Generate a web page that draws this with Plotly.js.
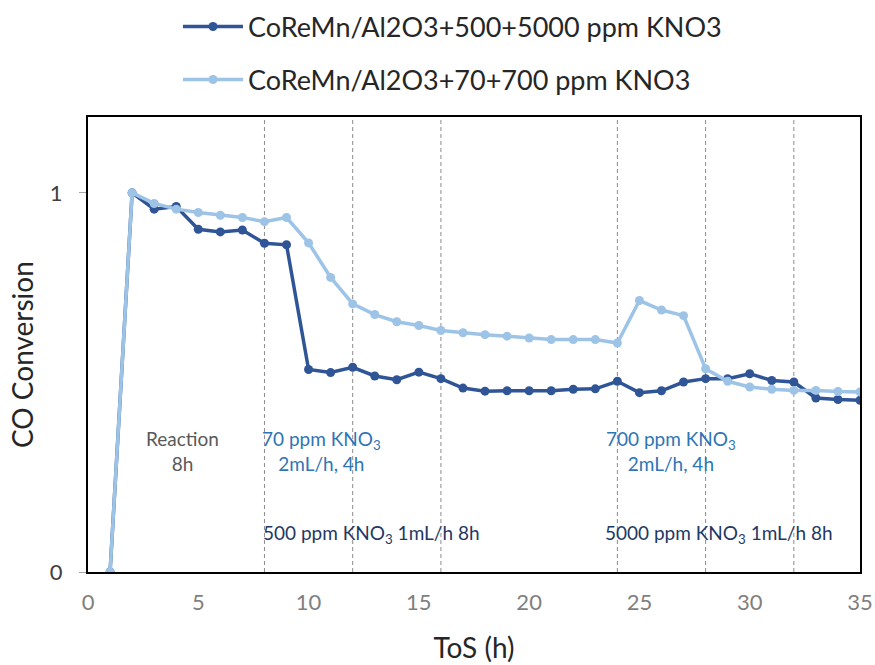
<!DOCTYPE html>
<html>
<head>
<meta charset="utf-8">
<script src="https://cdn.plot.ly/plotly-3.0.1.min.js"></script>
<style>html,body{margin:0;padding:0;background:#fff;}#chart{width:875px;height:665px;}</style>
</head>
<body>
<div id="chart"></div>
<script>
var tosHours = [1,2,3,4,5,6,7,8,9,10,11,12,13,14,15,16,17,18,19,20,21,22,23,24,25,26,27,28,29,30,31,32,33,34,35];
var conv500_5000 = [0,1.0,0.957,0.964,0.904,0.897,0.902,0.867,0.863,0.534,0.526,0.540,0.517,0.507,0.527,0.510,0.485,0.477,0.478,0.478,0.478,0.482,0.483,0.503,0.473,0.478,0.501,0.510,0.510,0.523,0.505,0.501,0.459,0.455,0.453];
var conv70_700 = [0,1.0,0.972,0.957,0.948,0.941,0.935,0.924,0.935,0.868,0.777,0.707,0.679,0.660,0.650,0.637,0.631,0.626,0.622,0.617,0.613,0.613,0.613,0.604,0.716,0.691,0.676,0.536,0.503,0.488,0.482,0.479,0.479,0.476,0.475];
var seriesNames = ["CoReMn/Al2O3+500+5000 ppm KNO3", "CoReMn/Al2O3+70+700 ppm KNO3"];
var phaseLines = [8,12,16,24,28,32];
var xTicks = [0,5,10,15,20,25,30,35];
var yTicks = [0,1];
var yTitle = "CO Conversion";
var xTitle = "ToS (h)";
var noteReaction = "Reaction<br>8h";
var noteLow = "70 ppm KNO<sub>3</sub><br>2mL/h, 4h";
var noteHigh = "700 ppm KNO<sub>3</sub><br>2mL/h, 4h";
var note500 = "500 ppm KNO<sub>3</sub> 1mL/h 8h";
var note5000 = "5000 ppm KNO<sub>3</sub> 1mL/h 8h";

var darkBlue = "#2F5597";
var lightBlue = "#9DC3E6";
var FONT = "Lato, 'Open Sans', sans-serif";

var traces = [
  {x: tosHours, y: conv500_5000, name: seriesNames[0], type: "scatter", mode: "lines+markers",
   line: {color: darkBlue, width: 3.5}, marker: {color: darkBlue, size: 9}, legend: "legend"},
  {x: tosHours, y: conv70_700, name: seriesNames[1], type: "scatter", mode: "lines+markers",
   line: {color: lightBlue, width: 3.5}, marker: {color: lightBlue, size: 9}, legend: "legend2"}
];

var shapes = phaseLines.map(function (v) {
  return {type: "line", xref: "x", yref: "paper", x0: v, x1: v, y0: 0, y1: 1,
          line: {color: "#8C8C8C", width: 1, dash: "4px,3px"}, layer: "below"};
});

var annFont = function (c) { return {family: FONT, size: 19, color: c}; };
var annotations = [
  {x: 4.3, y: 0.32, xref: "x", yref: "y", text: noteReaction, showarrow: false, font: annFont("#595959"), align: "center"},
  {x: 10.6, y: 0.32, xref: "x", yref: "y", text: noteLow, showarrow: false, font: annFont("#2E75B6"), align: "center"},
  {x: 26.45, y: 0.32, xref: "x", yref: "y", text: noteHigh, showarrow: false, font: annFont("#2E75B6"), align: "center"},
  {x: 12.86, y: 0.1, xref: "x", yref: "y", text: note500, showarrow: false, font: annFont("#1F3864"), align: "center"},
  {x: 28.6, y: 0.1, xref: "x", yref: "y", text: note5000, showarrow: false, font: annFont("#1F3864"), align: "center"},
  {x: -0.0855, y: 0.479, xref: "paper", yref: "paper", text: yTitle, textangle: -90, showarrow: false,
   xanchor: "center", yanchor: "middle", font: {family: FONT, size: 28, color: "#262626"}}
];

var legendBase = {xref: "container", yref: "container", xanchor: "left", yanchor: "middle",
  bgcolor: "rgba(0,0,0,0)", font: {family: FONT, size: 27, color: "#262626"}, itemwidth: 60};

var layout = {
  width: 875, height: 665,
  margin: {l: 88, r: 15, t: 117, b: 93, autoexpand: false},
  paper_bgcolor: "#fff", plot_bgcolor: "#fff",
  font: {family: FONT},
  showlegend: true,
  legend: Object.assign({}, legendBase, {x: 178/875, y: 1 - 27/665}),
  legend2: Object.assign({}, legendBase, {x: 178/875, y: 1 - 80/665}),
  xaxis: {range: [0, 35], tickvals: xTicks, ticktext: xTicks.map(String), showgrid: false, zeroline: false,
    showline: true, mirror: true, linecolor: "#000", linewidth: 2, ticks: "", ticklabelstandoff: 10,
    tickfont: {family: FONT, size: 22, color: "#7F7F7F"},
    title: {text: xTitle, font: {family: FONT, size: 28, color: "#262626"}, standoff: 24}},
  yaxis: {range: [0, 1.2], tickvals: yTicks, ticktext: yTicks.map(String), showgrid: false, zeroline: false,
    showline: true, mirror: true, linecolor: "#000", linewidth: 2, ticks: "outside", ticklen: 7, tickcolor: "#A6A6A6",
    ticklabelstandoff: 12,
    tickfont: {family: FONT, size: 22, color: "#404040"}},
  shapes: shapes,
  annotations: annotations
};

Plotly.newPlot("chart", traces, layout, {displayModeBar: false, staticPlot: true});
</script>
</body>
</html>
